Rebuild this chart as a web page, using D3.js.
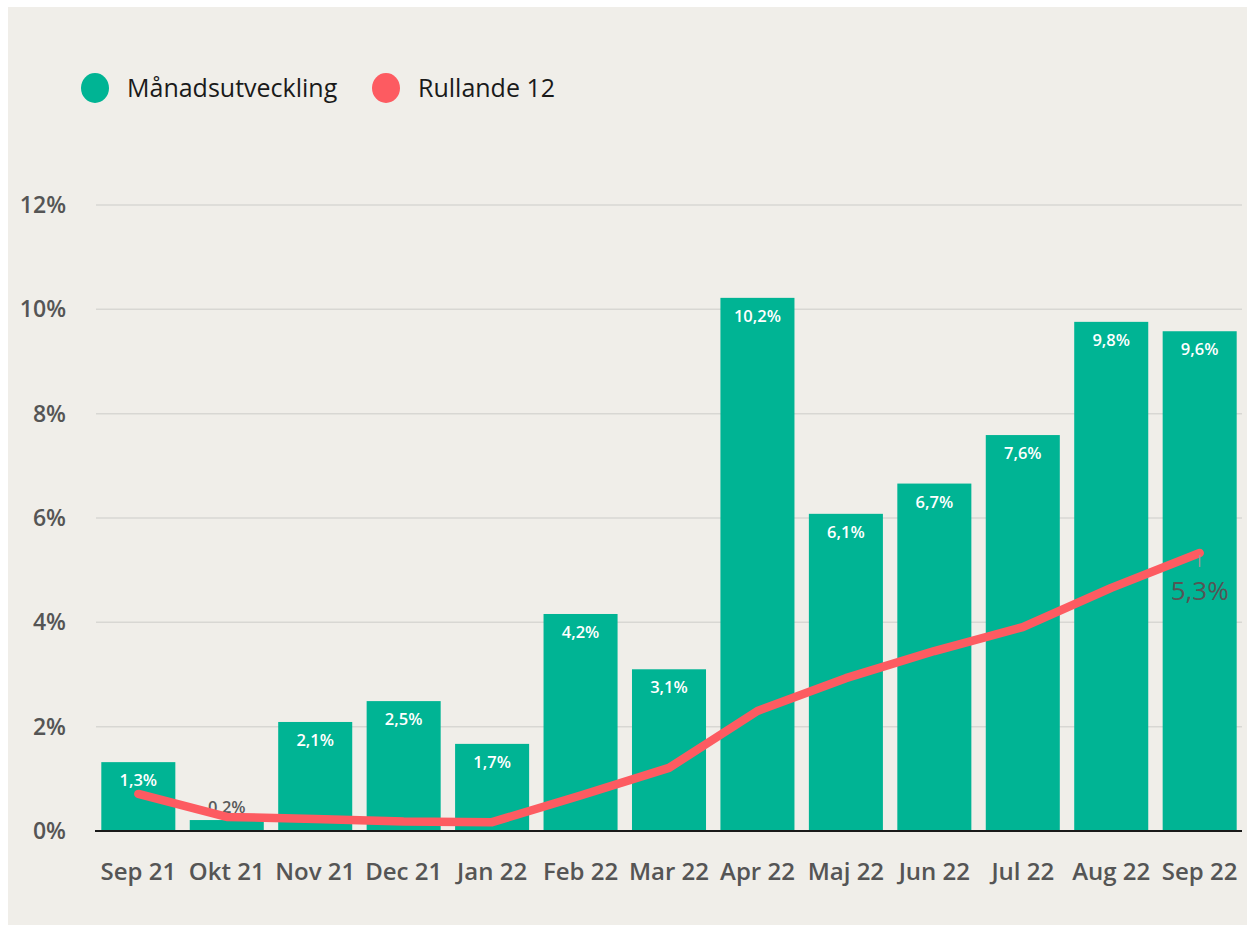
<!DOCTYPE html>
<html>
<head>
<meta charset="utf-8">
<script src="https://cdn.jsdelivr.net/npm/d3@7"></script>
<style>
  html, body { margin: 0; padding: 0; background: #ffffff; }
  svg { display: block; font-family: "Open Sans", "Noto Sans", sans-serif; }
</style>
</head>
<body>
<svg id="chart"></svg>
<script>
// data
const months = ['Sep 21', 'Okt 21', 'Nov 21', 'Dec 21', 'Jan 22', 'Feb 22', 'Mar 22',
  'Apr 22', 'Maj 22', 'Jun 22', 'Jul 22', 'Aug 22', 'Sep 22']
const monthly = [1.32, 0.21, 2.09, 2.49, 1.67, 4.16, 3.10, 10.22, 6.08, 6.66, 7.59, 9.76, 9.58]
const rolling = [0.71, 0.27, 0.23, 0.18, 0.17, 0.68, 1.21, 2.30, 2.93, 3.45, 3.91, 4.66, 5.33]
const yTicks = [0, 2, 4, 6, 8, 10, 12]
const seriesNames = ['Månadsutveckling', 'Rullande 12']

const width = 1247
const height = 926
const green = '#00b494'
const red = '#fd5b61'

const margin = { top: 205, right: 5, bottom: 95, left: 96 }
const innerWidth = width - margin.left - margin.right
const innerHeight = height - margin.top - margin.bottom

const svg = d3.select('#chart')
  .attr('width', width)
  .attr('height', height)

// panel background
svg.append('rect')
  .attr('x', 8).attr('y', 7)
  .attr('width', width - 8).attr('height', 918)
  .attr('fill', '#f0eee9')

const data = months.map((m, i) => ({ month: m, value: monthly[i], roll: rolling[i] }))

const xScale = d3.scaleBand()
  .domain(months)
  .range([0, innerWidth])
  .paddingInner(0.163)
  .paddingOuter(0.06)

const yScale = d3.scaleLinear()
  .domain([0, 12])
  .range([innerHeight, 0])

const g = svg.append('g')
  .attr('transform', `translate(${margin.left},${margin.top})`)

// gridlines
g.append('g')
  .selectAll('line')
  .data(yTicks.filter(d => d > 0))
  .join('line')
  .attr('x1', 0)
  .attr('x2', innerWidth)
  .attr('y1', d => yScale(d))
  .attr('y2', d => yScale(d))
  .attr('stroke', '#d8d7d3')
  .attr('stroke-width', 1.5)

// y axis labels
g.append('g')
  .selectAll('text')
  .data(yTicks)
  .join('text')
  .attr('x', -30)
  .attr('y', d => yScale(d))
  .attr('dy', '0.35em')
  .attr('text-anchor', 'end')
  .attr('fill', '#555555')
  .attr('font-size', 23)
  .attr('font-weight', 600)
  .text(d => d + '%')

// bars
g.selectAll('rect.bar')
  .data(data)
  .join('rect')
  .attr('class', 'bar')
  .attr('x', d => xScale(d.month))
  .attr('y', d => yScale(d.value))
  .attr('width', xScale.bandwidth())
  .attr('height', d => innerHeight - yScale(d.value))
  .attr('fill', green)

// baseline
g.append('line')
  .attr('x1', -1)
  .attr('x2', innerWidth)
  .attr('y1', innerHeight)
  .attr('y2', innerHeight)
  .attr('stroke', '#1a1a1a')
  .attr('stroke-width', 2)

// bar labels
const fmt = v => d3.format('.1f')(v).replace('.', ',') + '%'
g.selectAll('text.barlabel')
  .data(data)
  .join('text')
  .attr('class', 'barlabel')
  .attr('x', d => xScale(d.month) + xScale.bandwidth() / 2)
  .attr('y', d => d.value < 1 ? yScale(d.value) - 7 : yScale(d.value) + 24)
  .attr('text-anchor', 'middle')
  .attr('fill', d => d.value < 1 ? '#5a5a5a' : '#ffffff')
  .attr('font-size', 16.5)
  .attr('font-weight', 600)
  .text(d => fmt(d.value))

// rolling line
const line = d3.line()
  .x(d => xScale(d.month) + xScale.bandwidth() / 2)
  .y(d => yScale(d.roll))

g.append('path')
  .datum(data)
  .attr('d', line)
  .attr('fill', 'none')
  .attr('stroke', red)
  .attr('stroke-width', 8.5)
  .attr('stroke-linecap', 'round')
  .attr('stroke-linejoin', 'round')

// last point label
const last = data[data.length - 1]
const lx = xScale(last.month) + xScale.bandwidth() / 2
const ly = yScale(last.roll)
g.append('line')
  .attr('x1', lx).attr('x2', lx)
  .attr('y1', ly + 2).attr('y2', ly + 14)
  .attr('stroke', '#9a9a9a')
  .attr('stroke-width', 1.5)
g.append('text')
  .attr('x', lx)
  .attr('y', ly + 47)
  .attr('text-anchor', 'middle')
  .attr('fill', '#555555')
  .attr('font-size', 26)
  .text(fmt(last.roll))

// x axis labels
g.append('g')
  .selectAll('text')
  .data(months)
  .join('text')
  .attr('x', d => xScale(d) + xScale.bandwidth() / 2)
  .attr('y', innerHeight + 49)
  .attr('text-anchor', 'middle')
  .attr('fill', '#555555')
  .attr('font-size', 24)
  .attr('font-weight', 600)
  .text(d => d)

// legend
const legend = svg.append('g')
const legendX = [95, 386]
const legendColors = [green, red]
seriesNames.forEach((name, i) => {
  legend.append('ellipse')
    .attr('cx', legendX[i])
    .attr('cy', 88)
    .attr('rx', 14)
    .attr('ry', 15)
    .attr('fill', legendColors[i])
  legend.append('text')
    .attr('x', legendX[i] + 32)
    .attr('y', 88)
    .attr('dy', '0.35em')
    .attr('fill', '#1a1a1a')
    .attr('font-size', 25)
    .text(name)
})
</script>
</body>
</html>
